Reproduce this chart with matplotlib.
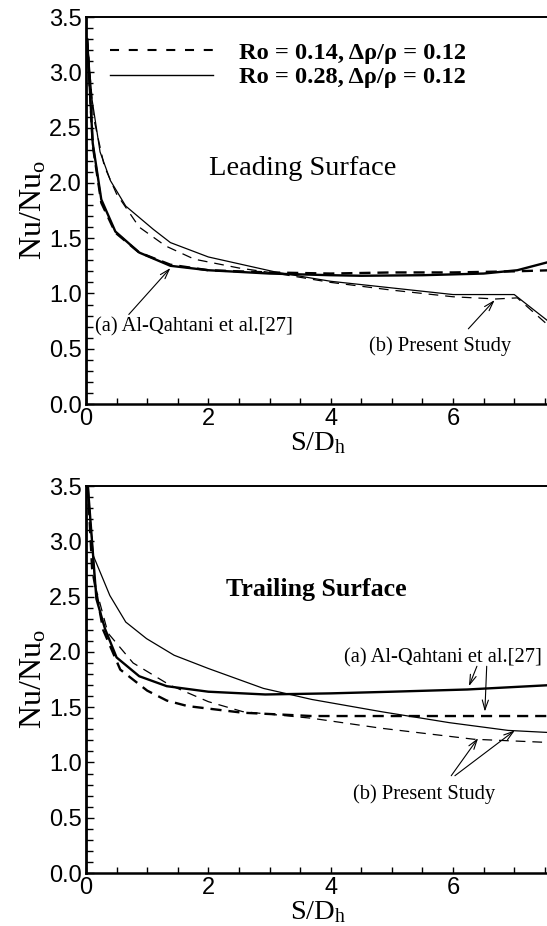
import numpy as np
import matplotlib
matplotlib.use("Agg")
import matplotlib.pyplot as plt
from matplotlib.ticker import MultipleLocator, FormatStrFormatter
from matplotlib.lines import Line2D

plt.rcParams['font.family'] = ['Liberation Serif', 'DejaVu Serif']
plt.rcParams['mathtext.fontset'] = 'custom'
plt.rcParams['mathtext.rm'] = 'Liberation Serif'
plt.rcParams['mathtext.it'] = 'Liberation Serif:italic'
plt.rcParams['lines.scale_dashes'] = False

# ---- leading surface ----
lead_a14_x = [0.02, 0.11, 0.25, 0.48, 0.87, 1.38, 2.0, 3.0, 4.0, 5.0, 6.0, 7.0, 7.6]
lead_a14_y = [3.3, 2.34, 1.82, 1.55, 1.37, 1.26, 1.21, 1.19, 1.18, 1.19, 1.19, 1.2, 1.21]
lead_a28_x = [0.02, 0.11, 0.25, 0.48, 0.87, 1.38, 2.0, 3.0, 4.0, 4.5, 5.5, 6.5, 7.05, 7.6]
lead_a28_y = [3.3, 2.36, 1.85, 1.56, 1.37, 1.25, 1.21, 1.18, 1.165, 1.16, 1.165, 1.18, 1.21, 1.29]
lead_b14_x = [0.02, 0.12, 0.3, 0.5, 0.87, 1.3, 1.77, 2.5, 3.13, 4.0, 5.0, 6.0, 6.7, 7.05, 7.6]
lead_b14_y = [3.3, 2.6, 2.15, 1.9, 1.6, 1.43, 1.31, 1.23, 1.18, 1.1, 1.03, 0.97, 0.95, 0.96, 0.69]
lead_b28_x = [0.02, 0.1, 0.23, 0.4, 0.65, 1.1, 1.38, 2.0, 3.13, 4.0, 5.0, 6.0, 7.0, 7.6]
lead_b28_y = [3.3, 2.75, 2.28, 2.02, 1.79, 1.58, 1.46, 1.33, 1.19, 1.11, 1.05, 0.99, 0.99, 0.73]

# ---- trailing surface ----
trail_a14_x = [0.03, 0.1, 0.28, 0.56, 1.0, 1.32, 1.66, 2.56, 3.69, 5.0, 6.0, 7.6]
trail_a14_y = [3.5, 2.75, 2.2, 1.84, 1.65, 1.56, 1.51, 1.45, 1.42, 1.42, 1.42, 1.42]
trail_a28_x = [0.03, 0.17, 0.31, 0.5, 0.87, 1.32, 2.0, 2.93, 4.0, 5.0, 6.23, 7.6]
trail_a28_y = [3.5, 2.48, 2.21, 1.95, 1.78, 1.69, 1.64, 1.615, 1.625, 1.64, 1.66, 1.7]
trail_b14_x = [0.03, 0.15, 0.36, 0.77, 1.37, 2.0, 2.56, 3.69, 4.82, 6.34, 7.6]
trail_b14_y = [3.5, 2.6, 2.17, 1.9, 1.7, 1.55, 1.46, 1.4, 1.31, 1.21, 1.18]
trail_b28_x = [0.02, 0.12, 0.39, 0.65, 0.99, 1.44, 2.0, 2.9, 3.69, 4.82, 5.94, 6.9, 7.6]
trail_b28_y = [3.5, 2.87, 2.51, 2.27, 2.12, 1.97, 1.85, 1.67, 1.57, 1.46, 1.36, 1.29, 1.27]

legend_labels = ['Ro = 0.14, \u0394\u03c1/\u03c1 = 0.12', 'Ro = 0.28, \u0394\u03c1/\u03c1 = 0.12']

fig = plt.figure(figsize=(5.47, 9.26), dpi=100)
ax1 = fig.add_axes([0.1572, 0.5637, 0.850, 0.4179])
ax2 = fig.add_axes([0.1572, 0.0572, 0.850, 0.4179])

thick = 1.7
thin = 0.9
dash_thick = (0, (8, 5))
dash_thin = (0, (7, 5))

ax1.plot(lead_a14_x, lead_a14_y, color='k', lw=thick, linestyle=dash_thick)
ax1.plot(lead_a28_x, lead_a28_y, color='k', lw=thick)
ax1.plot(lead_b14_x, lead_b14_y, color='k', lw=thin, linestyle=dash_thin)
ax1.plot(lead_b28_x, lead_b28_y, color='k', lw=thin)

ax2.plot(trail_a14_x, trail_a14_y, color='k', lw=thick, linestyle=dash_thick)
ax2.plot(trail_a28_x, trail_a28_y, color='k', lw=thick)
ax2.plot(trail_b14_x, trail_b14_y, color='k', lw=thin, linestyle=dash_thin)
ax2.plot(trail_b28_x, trail_b28_y, color='k', lw=thin)

for ax in (ax1, ax2):
    ax.set_xlim(0, 7.6)
    ax.set_ylim(0, 3.5)
    ax.xaxis.set_major_locator(MultipleLocator(2))
    ax.xaxis.set_minor_locator(MultipleLocator(0.5))
    ax.yaxis.set_major_locator(MultipleLocator(0.5))
    ax.yaxis.set_minor_locator(MultipleLocator(0.1))
    ax.yaxis.set_major_formatter(FormatStrFormatter('%.1f'))
    ax.tick_params(which='both', direction='in', top=False, right=False,
                   width=1.0, color='k')
    ax.tick_params(axis='y', which='major', length=6, pad=3)
    ax.tick_params(axis='y', which='minor', length=5)
    ax.tick_params(axis='x', which='both', length=4, pad=3)
    for lab in ax.get_xticklabels() + ax.get_yticklabels():
        lab.set_family('Liberation Sans')
        lab.set_fontsize(17)
    ax.spines['left'].set_linewidth(2.0)
    ax.spines['bottom'].set_linewidth(1.8)
    ax.spines['top'].set_linewidth(1.4)
    ax.spines['right'].set_visible(False)
    ax.set_ylabel('Nu/Nu$_{\\mathrm{o}}$', fontsize=23)
    ax.yaxis.set_label_coords(-0.08, 0.5)
    ax.set_xlabel('S/D$_{\\mathrm{h}}$', fontsize=20.5, va='baseline')
    ax.xaxis.set_label_coords(0.5, -0.119)

arrow = dict(arrowstyle='->, head_length=0.7, head_width=0.22', color='k', lw=0.8,
             shrinkA=0, shrinkB=0)

# legend on leading panel
handles = [Line2D([], [], color='k', lw=1.5, linestyle=(0, (6.5, 7))),
           Line2D([], [], color='k', lw=1.0)]
ax1.legend(handles, legend_labels, loc='upper left', bbox_to_anchor=(0.052, 0.937),
           frameon=False, prop={'family': 'Liberation Serif', 'weight': 'bold', 'size': 17.6},
           handlelength=4.2, handletextpad=1.07, labelspacing=0.1,
           borderpad=0, borderaxespad=0)

ax1.text(3.54, 2.13, 'Leading Surface', fontsize=20.5, ha='center', va='center')
ax1.text(0.15, 0.70, '(a) Al-Qahtani et al.[27]', fontsize=14.8, ha='left', va='center')
ax1.annotate('', xy=(1.38, 1.23), xytext=(0.7, 0.81), arrowprops=arrow)
ax1.text(4.62, 0.52, '(b) Present Study', fontsize=14.8, ha='left', va='center')
ax1.annotate('', xy=(6.68, 0.94), xytext=(6.25, 0.68), arrowprops=arrow)

ax2.text(3.76, 2.56, 'Trailing Surface', fontsize=18.6, fontweight='bold',
         ha='center', va='center')
ax2.text(4.22, 1.95, '(a) Al-Qahtani et al.[27]', fontsize=14.8, ha='left', va='center')
ax2.annotate('', xy=(6.26, 1.69), xytext=(6.39, 1.87), arrowprops=arrow)
ax2.annotate('', xy=(6.52, 1.46), xytext=(6.55, 1.87), arrowprops=arrow)
ax2.text(4.36, 0.71, '(b) Present Study', fontsize=14.8, ha='left', va='center')
ax2.annotate('', xy=(6.41, 1.22), xytext=(5.97, 0.88), arrowprops=arrow)
ax2.annotate('', xy=(7.01, 1.29), xytext=(6.03, 0.88), arrowprops=arrow)

fig.savefig('out.png', dpi=100)
